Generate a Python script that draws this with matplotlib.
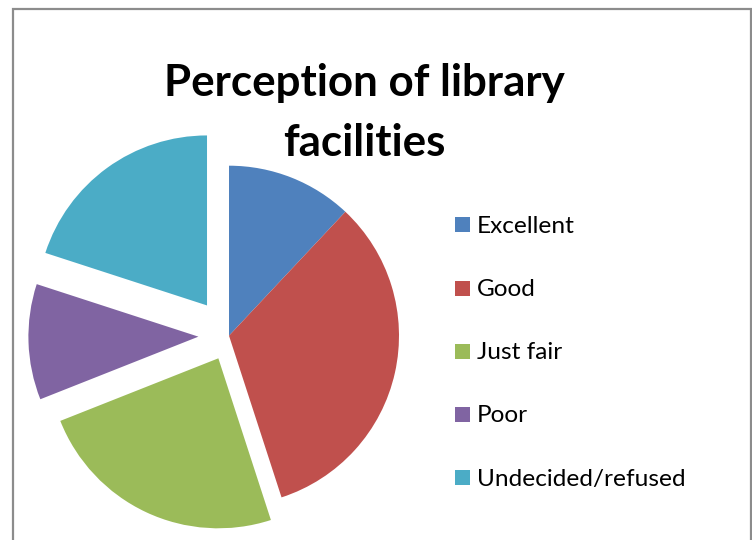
import matplotlib
matplotlib.use("Agg")
import matplotlib.pyplot as plt
from matplotlib.patches import Rectangle

categories = ["Excellent", "Good", "Just fair", "Poor", "Undecided/refused"]
values = [12, 33, 24, 11, 20]
colors = ["#4F81BD", "#C0504D", "#9BBB59", "#8064A2", "#4BACC6"]
explode = [0, 0, 0.147, 0.18, 0.22]
title_lines = ["Perception of library", "facilities"]

W, H = 752, 540
R = 170
fig = plt.figure(figsize=(W / 100, H / 100), dpi=100)
ax = fig.add_axes([0, 0, 1, 1])
ax.set_xlim(0, W)
ax.set_ylim(0, H)
ax.axis("off")

ax.pie(values, colors=colors, explode=[e * R for e in explode], startangle=90,
       counterclock=False, radius=R, center=(229, H - 335.7),
       wedgeprops=dict(linewidth=0))
ax.set_xlim(0, W)
ax.set_ylim(0, H)
ax.set_aspect("equal")

# chart frame
ax.add_patch(Rectangle((12.5, -20), 738.5, H - 9 + 20, fill=False,
                       edgecolor="#8c8c8c", linewidth=1.6, clip_on=False))

fig.canvas.draw()
renderer = fig.canvas.get_renderer()

def fit_text(x, y, s, target_w, **kw):
    fs = 20
    t = ax.text(x, y, s, fontsize=fs, **kw)
    w = t.get_window_extent(renderer).width
    t.set_fontsize(fs * target_w / w)
    return t

# title
t1 = fit_text(364, H - 96, title_lines[0], 402, ha="center", va="baseline",
              fontweight="bold", family="Lato", color="black")
ax.text(364, H - 156, title_lines[1], ha="center", va="baseline",
        fontweight="bold", family="Lato", color="black",
        fontsize=t1.get_fontsize())

# legend
row0, dy = 224.8, 63.2
tl = ax.text(0, 0, categories[-1], fontsize=20, family="Lato")
lw = tl.get_window_extent(renderer).width
lfs = 20 * 209 / lw
tl.remove()
for i, (lab, col) in enumerate(zip(categories, colors)):
    yc = row0 + i * dy
    ax.add_patch(Rectangle((455, H - yc - 7.5), 15, 15, facecolor=col, edgecolor="none"))
    ax.text(477, H - yc - 8, lab, fontsize=lfs, family="Lato", ha="left",
            va="baseline", color="black")

fig.savefig("out.png", dpi=100)
